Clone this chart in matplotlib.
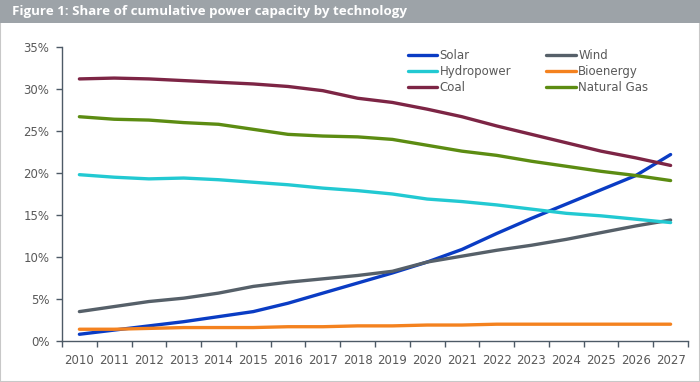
import matplotlib.pyplot as plt
import numpy as np
from matplotlib.patches import Rectangle

years = [str(y) for y in range(2010, 2028)]

solar = [0.8, 1.3, 1.8, 2.3, 2.9, 3.5, 4.5, 5.7, 6.9, 8.1, 9.4, 10.9, 12.8, 14.6, 16.3, 18.0, 19.7, 22.2]
wind = [3.5, 4.1, 4.7, 5.1, 5.7, 6.5, 7.0, 7.4, 7.8, 8.3, 9.4, 10.1, 10.8, 11.4, 12.1, 12.9, 13.7, 14.4]
hydro = [19.8, 19.5, 19.3, 19.4, 19.2, 18.9, 18.6, 18.2, 17.9, 17.5, 16.9, 16.6, 16.2, 15.7, 15.2, 14.9, 14.5, 14.1]
bio = [1.4, 1.4, 1.5, 1.6, 1.6, 1.6, 1.7, 1.7, 1.8, 1.8, 1.9, 1.9, 2.0, 2.0, 2.0, 2.0, 2.0, 2.0]
coal = [31.2, 31.3, 31.2, 31.0, 30.8, 30.6, 30.3, 29.8, 28.9, 28.4, 27.6, 26.7, 25.6, 24.6, 23.6, 22.6, 21.8, 20.9]
gas = [26.7, 26.4, 26.3, 26.0, 25.8, 25.2, 24.6, 24.4, 24.3, 24.0, 23.3, 22.6, 22.1, 21.4, 20.8, 20.2, 19.7, 19.1]

series = [
    ("Solar", solar, "#0a3cc4"),
    ("Wind", wind, "#566069"),
    ("Hydropower", hydro, "#22c9d2"),
    ("Bioenergy", bio, "#f4821f"),
    ("Coal", coal, "#7d2545"),
    ("Natural Gas", gas, "#5c8c12"),
]

txt = "#595959"
axc = "#4d5a66"

fig = plt.figure(figsize=(7, 3.82), dpi=100)
fig.patches.append(Rectangle((0, 0), 1, 1, transform=fig.transFigure, fill=False,
                             edgecolor="#c8c8c8", linewidth=1.5))
fig.patches.append(Rectangle((0, 1 - 23 / 382), 1, 23 / 382, transform=fig.transFigure,
                             facecolor="#9da3a8", edgecolor="none"))
fig.text(12 / 700, 1 - 11.5 / 382, "Figure 1: Share of cumulative power capacity by technology",
         color="white", fontweight="bold", fontsize=9.6, family="Open Sans", va="center", ha="left")

ax = fig.add_axes([62 / 700, 1 - 341 / 382, 626 / 700, 294 / 382])
x = np.arange(len(years))
lines = {}
for name, vals, col in series:
    lines[name], = ax.plot(x, vals, color=col, lw=2.4, label=name, solid_capstyle="round")

ax.set_xlim(-0.5, len(years) - 0.5)
ax.set_ylim(0, 35)
ax.set_yticks(range(0, 36, 5))
ax.set_yticklabels([f"{v}%" for v in range(0, 36, 5)])
ax.set_xticks(x)
ax.set_xticklabels(years)
ax.set_xticks(np.arange(-0.5, len(years)), minor=True)
ax.tick_params(axis="x", which="major", length=0, pad=9, labelsize=8.5, labelcolor=txt)
ax.tick_params(axis="x", which="minor", length=4, color=axc, width=1)
ax.tick_params(axis="y", length=4, color=axc, width=1, labelsize=8.5, labelcolor=txt, pad=5)
for s in ["top", "right"]:
    ax.spines[s].set_visible(False)
for s in ["left", "bottom"]:
    ax.spines[s].set_color(axc)
    ax.spines[s].set_linewidth(1)

# row-wise order like the original: column 1 = Solar, Hydro, Coal
order = ["Solar", "Hydropower", "Coal", "Wind", "Bioenergy", "Natural Gas"]
ax.legend([lines[n] for n in order], order, ncol=2, loc="upper left",
          bbox_to_anchor=(0.535, 1.03), frameon=False,
          fontsize=8.5, handlelength=2.5, handletextpad=0.2, columnspacing=3.0,
          labelspacing=0.25, labelcolor=txt)

fig.savefig("out.png", dpi=100)
